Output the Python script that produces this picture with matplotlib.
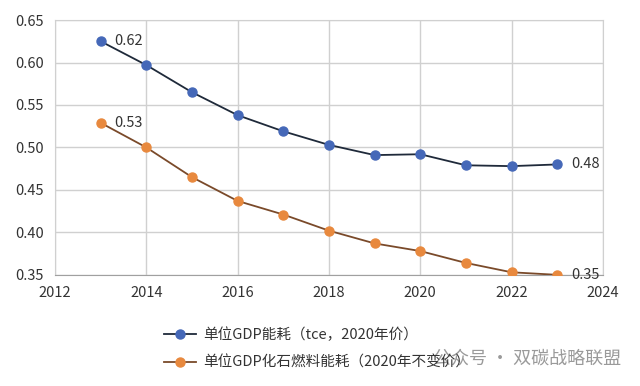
import matplotlib.pyplot as plt
from matplotlib.lines import Line2D

plt.rcParams['font.family'] = ['Noto Sans CJK SC', 'DejaVu Sans']

years = [2013, 2014, 2015, 2016, 2017, 2018, 2019, 2020, 2021, 2022, 2023]
energy = [0.625, 0.597, 0.565, 0.538, 0.519, 0.503, 0.491, 0.492, 0.479, 0.478, 0.480]
fossil = [0.529, 0.500, 0.465, 0.437, 0.421, 0.402, 0.387, 0.378, 0.364, 0.353, 0.350]
labels = ['单位GDP能耗（tce，2020年价）', '单位GDP化石燃料能耗（2020年不变价）']

fig = plt.figure(figsize=(6.4, 3.86), dpi=100)
ax = fig.add_axes([0.086, 0.288, 0.856, 0.66])

blue = '#4568b8'
orange = '#e8893e'

ax.plot(years, energy, color='#1f2a3a', lw=1.3, marker='o', ms=6.5,
        mfc=blue, mec=blue, zorder=3)
ax.plot(years, fossil, color='#7a4a2a', lw=1.3, marker='o', ms=6.5,
        mfc=orange, mec=orange, zorder=3)

ax.annotate('0.62', (years[0], energy[0]), xytext=(10, 0), textcoords='offset points',
            va='center', fontsize=10.5, color='#333333')
ax.annotate('0.53', (years[0], fossil[0]), xytext=(10, 0), textcoords='offset points',
            va='center', fontsize=10.5, color='#333333')
ax.annotate('0.48', (years[-1], energy[-1]), xytext=(10, 0), textcoords='offset points',
            va='center', fontsize=10.5, color='#333333')
ax.annotate('0.35', (years[-1], fossil[-1]), xytext=(10, 0), textcoords='offset points',
            va='center', fontsize=10.5, color='#333333')

ax.set_xlim(2012, 2024)
ax.set_ylim(0.35, 0.65)
ax.set_xticks(range(2012, 2025, 2))
ax.set_yticks([0.35, 0.40, 0.45, 0.50, 0.55, 0.60, 0.65])
ax.set_yticklabels(['%.2f' % v for v in ax.get_yticks()])
ax.grid(True, color='#d0d0d0', lw=1)
ax.set_axisbelow(True)
for s in ax.spines.values():
    s.set_color('#d0d0d0')
ax.spines['bottom'].set_color('#a0a0a0')
ax.tick_params(length=0, labelsize=10.5, colors='#333333', pad=8)

handles = [
    Line2D([], [], color='#1f2a3a', lw=1.3, marker='o', ms=6.5, mfc=blue, mec=blue),
    Line2D([], [], color='#7a4a2a', lw=1.3, marker='o', ms=6.5, mfc=orange, mec=orange),
]
fig.legend(handles, labels, loc='upper left', bbox_to_anchor=(0.235, 0.185),
           frameon=False, fontsize=10.5, handlelength=2.2, handletextpad=0.5,
           labelspacing=0.9, labelcolor='#333333')

fig.text(0.97, 0.07, '公众号 · 双碳战略联盟', ha='right', va='center',
         fontsize=13, color='#9a9a9a')

fig.savefig('out.png', dpi=100)
